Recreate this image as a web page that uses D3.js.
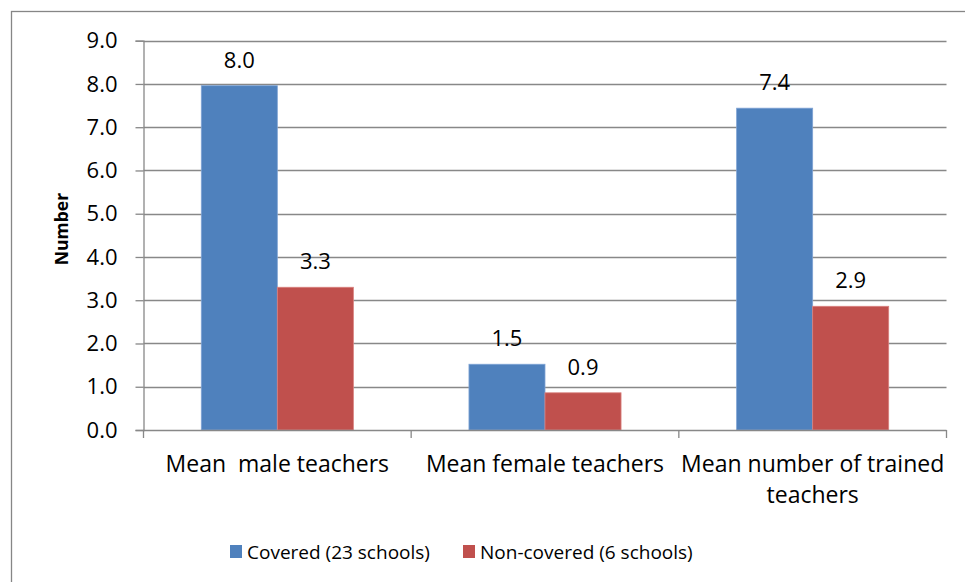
<!DOCTYPE html>
<html>
<head>
<meta charset="utf-8">
<script src="https://cdn.jsdelivr.net/npm/d3@7"></script>
<style>
  html, body { margin: 0; padding: 0; background: #fff; }
  svg { display: block; }
  text { font-family: "Open Sans", "Noto Sans", sans-serif; fill: #000; }
</style>
</head>
<body>
<div id="chart"></div>
<script>
// Teacher counts: schools covered by the programme vs. non-covered schools
const categories = ["Mean  male teachers", "Mean female teachers", "Mean number of trained teachers"];
const seriesNames = ["Covered (23 schools)", "Non-covered (6 schools)"];
const covered = [7.96, 1.52, 7.44];
const nonCovered = [3.30, 0.86, 2.86];
const yTicks = [0, 1, 2, 3, 4, 5, 6, 7, 8, 9];
const colors = ["#4F81BD", "#C0504D"];

const W = 965, H = 582;
const plot = { left: 143.5, right: 946.5, top: 40.7, bottom: 430 };

const svg = d3.select("#chart").append("svg")
  .attr("width", W).attr("height", H);

// chart area frame
svg.append("rect")
  .attr("x", 11.5).attr("y", 11.5)
  .attr("width", W + 20).attr("height", H + 20)
  .attr("fill", "none").attr("stroke", "#868686").attr("stroke-width", 1.3);

const x0 = d3.scaleBand().domain(categories).range([plot.left, plot.right]).paddingInner(0).paddingOuter(0);
const x1 = d3.scaleBand().domain(seriesNames).range([0, x0.bandwidth()]).paddingInner(0).paddingOuter(0.76);
const y = d3.scaleLinear().domain([0, 9]).range([plot.bottom, plot.top]);

// horizontal gridlines
svg.append("g").selectAll("line").data(yTicks.filter(d => d > 0)).join("line")
  .attr("x1", plot.left).attr("x2", plot.right)
  .attr("y1", d => Math.round(y(d)) + 0.5).attr("y2", d => Math.round(y(d)) + 0.5)
  .attr("stroke", "#888").attr("stroke-width", 1.3);

// y axis
const yAxis = svg.append("g")
  .attr("transform", `translate(${plot.left},0)`)
  .call(d3.axisLeft(y).tickValues(yTicks).tickFormat(d3.format(".1f")).tickSize(8).tickPadding(18));
yAxis.attr("font-size", null).attr("font-family", null);
yAxis.select(".domain").attr("stroke", "#888").attr("stroke-width", 1.3);
yAxis.selectAll(".tick line").attr("stroke", "#888").attr("stroke-width", 1.3);
yAxis.selectAll(".tick text").style("font-size", "22px").attr("fill", "#000");

// bars
const rows = categories.map((c, i) => ({ cat: c, vals: [covered[i], nonCovered[i]] }));
const groups = svg.append("g").selectAll("g").data(rows).join("g")
  .attr("transform", d => `translate(${x0(d.cat)},0)`);
groups.selectAll("rect").data(d => d.vals.map((v, j) => ({ v, j }))).join("rect")
  .attr("x", d => x1(seriesNames[d.j]))
  .attr("width", x1.bandwidth())
  .attr("y", d => y(d.v))
  .attr("height", d => y(0) - y(d.v))
  .attr("fill", d => colors[d.j])
  .attr("stroke", d => d.j === 0 ? "#7fa3d4" : "#d9817f")
  .attr("stroke-width", 0.8);

// value labels
groups.selectAll("text.val").data(d => d.vals.map((v, j) => ({ v, j }))).join("text")
  .attr("class", "val")
  .attr("x", d => x1(seriesNames[d.j]) + x1.bandwidth() / 2)
  .attr("y", d => y(d.v) - 18)
  .attr("text-anchor", "middle")
  .style("font-size", "22px")
  .text(d => d.v.toFixed(1));

// x axis line and category ticks
svg.append("line")
  .attr("x1", plot.left).attr("x2", plot.right)
  .attr("y1", plot.bottom + 0.5).attr("y2", plot.bottom + 0.5)
  .attr("stroke", "#888").attr("stroke-width", 1.3);
const bounds = categories.map(c => x0(c)).concat([plot.right]);
svg.append("g").selectAll("line").data(bounds).join("line")
  .attr("x1", d => d).attr("x2", d => d)
  .attr("y1", plot.bottom).attr("y2", plot.bottom + 8)
  .attr("stroke", "#888").attr("stroke-width", 1.3);

// category labels (last one wraps onto two lines)
const catLines = [["Mean  male teachers"], ["Mean female teachers"], ["Mean number of trained", "teachers"]];
svg.append("g").selectAll("text").data(categories).join("text")
  .attr("x", d => x0(d) + x0.bandwidth() / 2)
  .attr("y", 472)
  .attr("text-anchor", "middle")
  .style("font-size", "23px")
  .style("white-space", "pre")
  .each(function (d, i) {
    d3.select(this).selectAll("tspan").data(catLines[i]).join("tspan")
      .attr("x", x0(d) + x0.bandwidth() / 2)
      .attr("dy", (t, k) => k === 0 ? 0 : 31)
      .text(t => t);
  });

// y axis title
svg.append("text")
  .attr("transform", `translate(68,229) rotate(-90)`)
  .attr("text-anchor", "middle")
  .style("font-size", "17.5px")
  .style("font-weight", "bold")
  .text("Number");

// legend
const legend = svg.append("g");
const legendX = [230, 463];
seriesNames.forEach((s, i) => {
  legend.append("rect")
    .attr("x", legendX[i]).attr("y", 545)
    .attr("width", 12).attr("height", 13)
    .attr("fill", colors[i]);
  legend.append("text")
    .attr("x", legendX[i] + 17).attr("y", 559)
    .style("font-size", "19px")
    .text(s);
});
</script>
</body>
</html>
